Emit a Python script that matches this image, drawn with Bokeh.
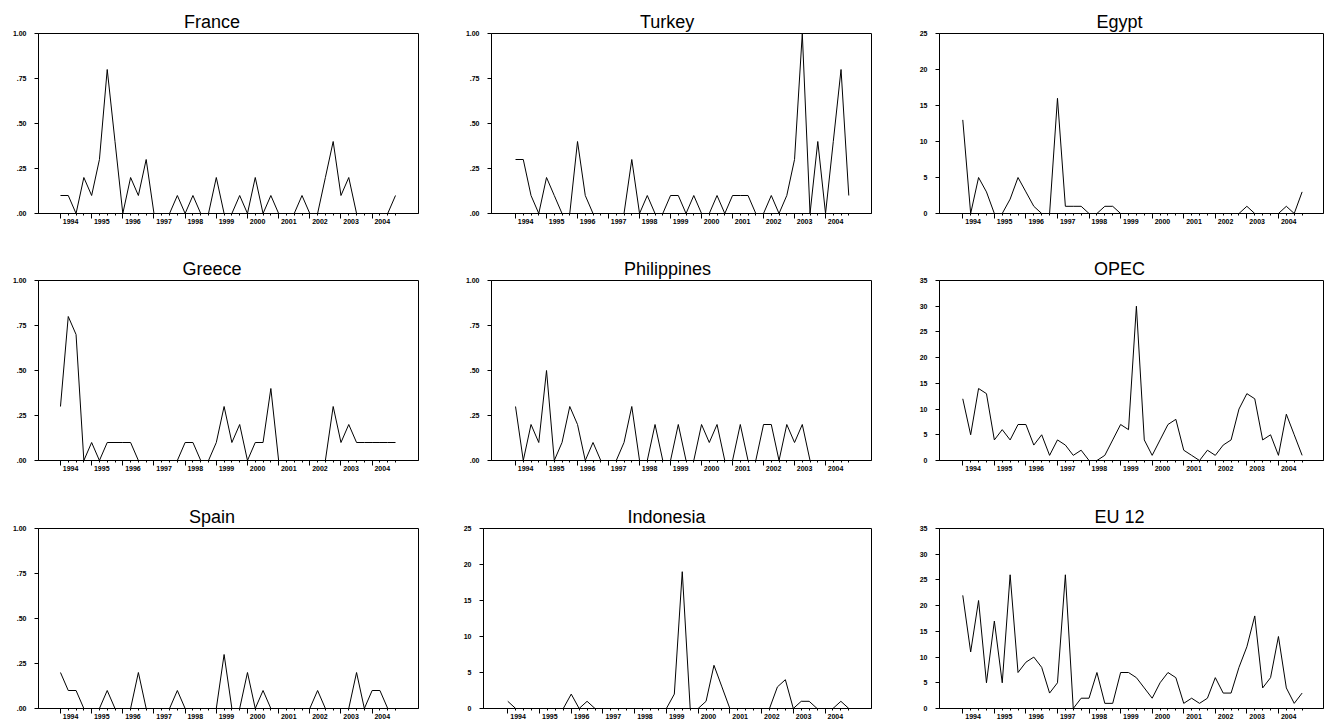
from bokeh.plotting import figure
from bokeh.models import FixedTicker, LinearAxis, Range1d, ColumnDataSource
from bokeh.layouts import column, row
from bokeh.embed import file_html
from bokeh.resources import INLINE

# ---------------- data (quarterly, 1994Q1 .. 2004Q4) ----------------
periods = [f"{y}Q{q}" for y in range(1994, 2005) for q in range(1, 5)]
year_labels = [str(y) for y in range(1994, 2005)]

france = [0.10, 0.10, 0, 0.20, 0.10, 0.30, 0.80, 0.40, 0, 0.20, 0.10, 0.30, 0, 0, 0, 0.10,
          0, 0.10, 0, 0, 0.20, 0, 0, 0.10, 0, 0.20, 0, 0.10, 0, 0, 0, 0.10,
          0, 0, 0.20, 0.40, 0.10, 0.20, 0, 0, 0, 0, 0, 0.10]
turkey = [0.30, 0.30, 0.10, 0, 0.20, 0.10, 0, 0, 0.40, 0.10, 0, 0, 0, 0, 0, 0.30,
          0, 0.10, 0, 0, 0.10, 0.10, 0, 0.10, 0, 0, 0.10, 0, 0.10, 0.10, 0.10, 0,
          0, 0.10, 0, 0.10, 0.30, 1.00, 0, 0.40, 0, 0.40, 0.80, 0.10]
egypt = [13, 0, 5, 3, 0, 0, 2, 5, 3, 1, 0, 0, 16, 1, 1, 1,
         0, 0, 1, 1, 0, 0, 0, 0, 0, 0, 0, 0, 0, 0, 0, 0,
         0, 0, 0, 0, 1, 0, 0, 0, 0, 1, 0, 3]
greece = [0.30, 0.80, 0.70, 0, 0.10, 0, 0.10, 0.10, 0.10, 0.10, 0, 0, 0, 0, 0, 0,
          0.10, 0.10, 0, 0, 0.10, 0.30, 0.10, 0.20, 0, 0.10, 0.10, 0.40, 0, 0, 0, 0,
          0, 0, 0, 0.30, 0.10, 0.20, 0.10, 0.10, 0.10, 0.10, 0.10, 0.10]
philippines = [0.30, 0, 0.20, 0.10, 0.50, 0, 0.10, 0.30, 0.20, 0, 0.10, 0, 0, 0, 0.10, 0.30,
               0, 0, 0.20, 0, 0, 0.20, 0, 0, 0.20, 0.10, 0.20, 0, 0, 0.20, 0, 0,
               0.20, 0.20, 0, 0.20, 0.10, 0.20, 0, 0, 0, 0, 0, 0]
opec = [12, 5, 14, 13, 4, 6, 4, 7, 7, 3, 5, 1, 4, 3, 1, 2,
        0, 0, 1, 4, 7, 6, 30, 4, 1, 4, 7, 8, 2, 1, 0, 2,
        1, 3, 4, 10, 13, 12, 4, 5, 1, 9, 5, 1]
spain = [0.20, 0.10, 0.10, 0, 0, 0, 0.10, 0, 0, 0, 0.20, 0, 0, 0, 0, 0.10,
         0, 0, 0, 0, 0, 0.30, 0, 0, 0.20, 0, 0.10, 0, 0, 0, 0, 0,
         0, 0.10, 0, 0, 0, 0, 0.20, 0, 0.10, 0.10, 0, 0]
indonesia = [1, 0, 0, 0, 0, 0, 0, 0, 2, 0, 1, 0, 0, 0, 0, 0,
             0, 0, 0, 0, 0, 2, 19, 0, 0, 1, 6, 3, 0, 0, 0, 0,
             0, 0, 3, 4, 0, 1, 1, 0, 0, 0, 1, 0]
eu12 = [22, 11, 21, 5, 17, 5, 26, 7, 9, 10, 8, 3, 5, 26, 0, 2,
        2, 7, 1, 1, 7, 7, 6, 4, 2, 5, 7, 6, 1, 2, 1, 2,
        6, 3, 3, 8, 12, 18, 4, 6, 14, 4, 1, 3]

share_ticks = [0.0, 0.25, 0.5, 0.75, 1.0]
share_labels = [".00", ".25", ".50", ".75", "1.00"]
ticks25 = [0, 5, 10, 15, 20, 25]
labels25 = ["0", "5", "10", "15", "20", "25"]
ticks35 = [0, 5, 10, 15, 20, 25, 30, 35]
labels35 = ["0", "5", "10", "15", "20", "25", "30", "35"]

# ---------------- styling / layout ----------------
FONT = "Liberation Sans"
TITLE_SIZE = 18
FRAME_H = 180
ROW_H = [247, 247, 228]
ROW_TOP = [33, 33, 34]
COLS = [
    dict(w=455, bl=38, fw=380, br=37, xr=(-2.82, 45.95), tc=211.5),
    dict(w=450, bl=36, fw=380, br=34, xr=(-3.10, 45.93), tc=667 - 455),
    dict(w=419, bl=34, fw=384, br=1, xr=(-2.95, 45.71), tc=1119 - 905),
]
COL2_WIDE = dict(w=450, bl=28, fw=388, br=34, xr=(-3.06, 45.86), tc=666 - 455)

# approximate Arial/Liberation Sans advance widths (per 1000 em) for centring titles
ADV = {"F": 611, "r": 333, "a": 556, "n": 556, "c": 500, "e": 556, "T": 611, "u": 556,
       "k": 500, "y": 500, "E": 667, "g": 556, "p": 556, "t": 278, "G": 778, "P": 667,
       "h": 556, "i": 222, "l": 222, "s": 500, "O": 778, "C": 722, "S": 667, "I": 278,
       "d": 556, "o": 556, "U": 722, " ": 278, "1": 556, "2": 556}

idx = list(range(len(periods)))
year_starts = [i for i, p in enumerate(periods) if p.endswith("Q1")]
label_pos = [i + 1.3 for i in year_starts]


def panel(title, vals, yt, yl, ymax, c, r):
    h = ROW_H[r]
    bt = ROW_TOP[r]
    bb = h - bt - FRAME_H
    p = figure(width=c["w"], height=h, output_backend="svg", toolbar_location=None,
               x_range=Range1d(*c["xr"]), y_range=Range1d(0, ymax),
               x_axis_location=None, y_axis_location=None,
               min_border_left=c["bl"], min_border_right=c["br"],
               min_border_top=bt, min_border_bottom=bb)
    p.xgrid.visible = False
    p.ygrid.visible = False
    p.outline_line_color = "black"
    p.outline_line_width = 1
    p.background_fill_color = "white"
    p.border_fill_color = "white"

    tw = sum(ADV.get(ch, 556) for ch in title) * TITLE_SIZE / 1000.0
    p.title.text = title
    p.title.align = "left"
    p.title.offset = c["tc"] - c["bl"] - tw / 2
    p.title.text_font = FONT
    p.title.text_font_size = f"{TITLE_SIZE}px"
    p.title.text_font_style = "normal"
    p.title.text_color = "black"
    p.title.vertical_align = "bottom"
    p.title.standoff = 4

    ya = LinearAxis(ticker=FixedTicker(ticks=yt),
                    major_label_overrides={t: s for t, s in zip(yt, yl)})
    ya.major_tick_out = 4
    ya.major_tick_in = 0
    ya.minor_tick_line_color = None
    ya.major_label_standoff = 8
    ya.major_label_text_font = FONT
    ya.major_label_text_font_style = "bold"
    ya.major_label_text_font_size = "7px"
    ya.major_label_text_color = "black"
    ya.axis_line_color = "black"
    ya.major_tick_line_color = "black"
    p.add_layout(ya, "left")

    # tick axis: year starts (long) and quarters (short)
    xt = LinearAxis(ticker=FixedTicker(ticks=year_starts, minor_ticks=idx),
                    major_label_overrides={t: "" for t in year_starts})
    xt.major_tick_out = 5
    xt.major_tick_in = 0
    xt.minor_tick_out = 2
    xt.minor_tick_in = 0
    xt.major_label_standoff = 0
    xt.major_label_text_font_size = "1px"
    xt.axis_line_color = "black"
    xt.major_tick_line_color = "black"
    xt.minor_tick_line_color = "black"
    p.add_layout(xt, "below")

    # label axis: year labels just right of each year start
    xl = LinearAxis(ticker=FixedTicker(ticks=label_pos, minor_ticks=[]),
                    major_label_overrides={t: s for t, s in zip(label_pos, year_labels)})
    xl.axis_line_color = None
    xl.major_tick_line_color = None
    xl.minor_tick_line_color = None
    xl.major_tick_out = 0
    xl.major_tick_in = 0
    xl.major_label_standoff = 0
    xl.major_label_text_font = FONT
    xl.major_label_text_font_style = "bold"
    xl.major_label_text_font_size = "7px"
    xl.major_label_text_color = "black"
    p.add_layout(xl, "below")

    src = ColumnDataSource(dict(x=idx, y=vals))
    p.line("x", "y", source=src, line_color="black", line_width=1)
    return p


figs = [
    [panel("France", france, share_ticks, share_labels, 1.0, COLS[0], 0),
     panel("Turkey", turkey, share_ticks, share_labels, 1.0, COLS[1], 0),
     panel("Egypt", egypt, ticks25, labels25, 25, COLS[2], 0)],
    [panel("Greece", greece, share_ticks, share_labels, 1.0, COLS[0], 1),
     panel("Philippines", philippines, share_ticks, share_labels, 1.0, COLS[1], 1),
     panel("OPEC", opec, ticks35, labels35, 35, COLS[2], 1)],
    [panel("Spain", spain, share_ticks, share_labels, 1.0, COLS[0], 2),
     panel("Indonesia", indonesia, ticks25, labels25, 25, COL2_WIDE, 2),
     panel("EU 12", eu12, ticks35, labels35, 35, COLS[2], 2)],
]

layout = column(*[row(*r) for r in figs])
open("out.html", "w").write(file_html(layout, INLINE))
